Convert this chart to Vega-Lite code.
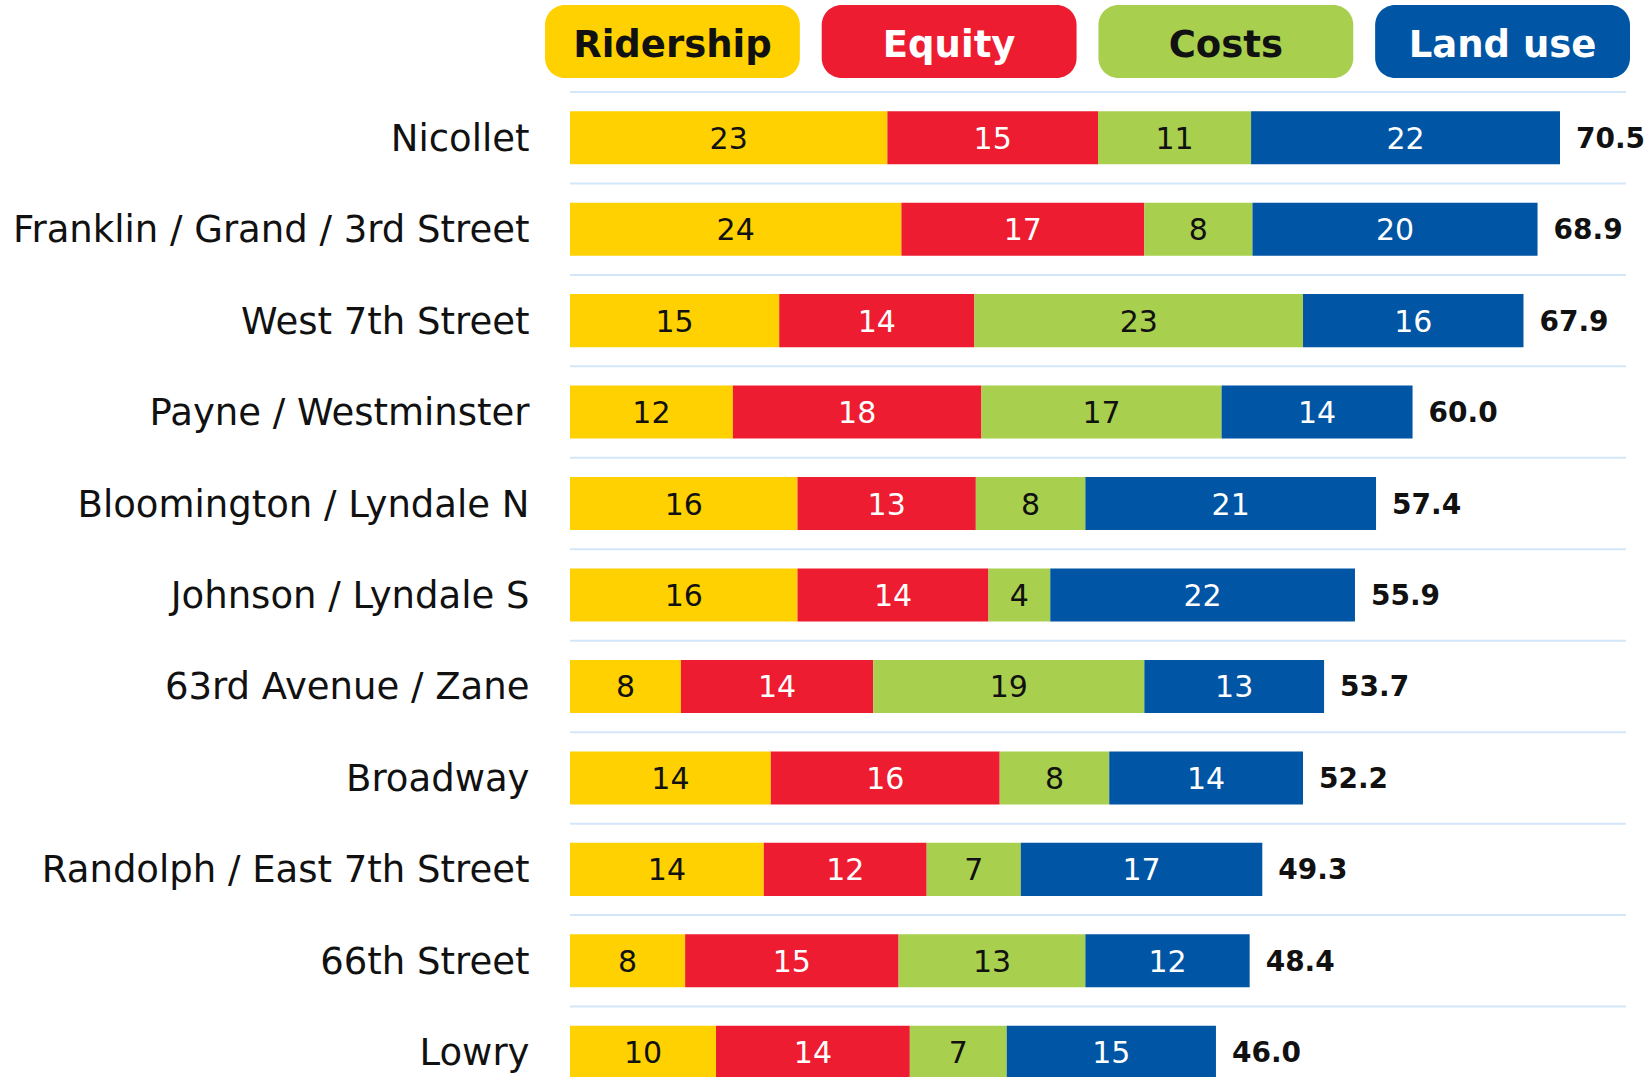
{
  "$schema": "https://vega.github.io/schema/vega-lite/v6.json",
  "width": 1056,
  "height": 985,
  "autosize": {"type": "none"},
  "padding": {"left": 570, "top": 92, "right": 24, "bottom": 0},
  "background": "white",
  "config": {"view": {"stroke": null}, "font": "DejaVu Sans"},
  "datasets": {
    "scores": [
      {"route": "Nicollet", "criterion": "Ridership", "n": 1, "score": 22.6},
      {"route": "Nicollet", "criterion": "Equity", "n": 2, "score": 15.0},
      {"route": "Nicollet", "criterion": "Costs", "n": 3, "score": 10.9},
      {"route": "Nicollet", "criterion": "Land use", "n": 4, "score": 22.0},
      {"route": "Franklin / Grand / 3rd Street", "criterion": "Ridership", "n": 1, "score": 23.6},
      {"route": "Franklin / Grand / 3rd Street", "criterion": "Equity", "n": 2, "score": 17.3},
      {"route": "Franklin / Grand / 3rd Street", "criterion": "Costs", "n": 3, "score": 7.7},
      {"route": "Franklin / Grand / 3rd Street", "criterion": "Land use", "n": 4, "score": 20.3},
      {"route": "West 7th Street", "criterion": "Ridership", "n": 1, "score": 14.9},
      {"route": "West 7th Street", "criterion": "Equity", "n": 2, "score": 13.9},
      {"route": "West 7th Street", "criterion": "Costs", "n": 3, "score": 23.4},
      {"route": "West 7th Street", "criterion": "Land use", "n": 4, "score": 15.7},
      {"route": "Payne / Westminster", "criterion": "Ridership", "n": 1, "score": 11.6},
      {"route": "Payne / Westminster", "criterion": "Equity", "n": 2, "score": 17.7},
      {"route": "Payne / Westminster", "criterion": "Costs", "n": 3, "score": 17.1},
      {"route": "Payne / Westminster", "criterion": "Land use", "n": 4, "score": 13.6},
      {"route": "Bloomington / Lyndale N", "criterion": "Ridership", "n": 1, "score": 16.2},
      {"route": "Bloomington / Lyndale N", "criterion": "Equity", "n": 2, "score": 12.7},
      {"route": "Bloomington / Lyndale N", "criterion": "Costs", "n": 3, "score": 7.8},
      {"route": "Bloomington / Lyndale N", "criterion": "Land use", "n": 4, "score": 20.7},
      {"route": "Johnson / Lyndale S", "criterion": "Ridership", "n": 1, "score": 16.2},
      {"route": "Johnson / Lyndale S", "criterion": "Equity", "n": 2, "score": 13.6},
      {"route": "Johnson / Lyndale S", "criterion": "Costs", "n": 3, "score": 4.4},
      {"route": "Johnson / Lyndale S", "criterion": "Land use", "n": 4, "score": 21.7},
      {"route": "63rd Avenue / Zane", "criterion": "Ridership", "n": 1, "score": 7.9},
      {"route": "63rd Avenue / Zane", "criterion": "Equity", "n": 2, "score": 13.7},
      {"route": "63rd Avenue / Zane", "criterion": "Costs", "n": 3, "score": 19.3},
      {"route": "63rd Avenue / Zane", "criterion": "Land use", "n": 4, "score": 12.8},
      {"route": "Broadway", "criterion": "Ridership", "n": 1, "score": 14.3},
      {"route": "Broadway", "criterion": "Equity", "n": 2, "score": 16.3},
      {"route": "Broadway", "criterion": "Costs", "n": 3, "score": 7.8},
      {"route": "Broadway", "criterion": "Land use", "n": 4, "score": 13.8},
      {"route": "Randolph / East 7th Street", "criterion": "Ridership", "n": 1, "score": 13.8},
      {"route": "Randolph / East 7th Street", "criterion": "Equity", "n": 2, "score": 11.6},
      {"route": "Randolph / East 7th Street", "criterion": "Costs", "n": 3, "score": 6.7},
      {"route": "Randolph / East 7th Street", "criterion": "Land use", "n": 4, "score": 17.2},
      {"route": "66th Street", "criterion": "Ridership", "n": 1, "score": 8.2},
      {"route": "66th Street", "criterion": "Equity", "n": 2, "score": 15.2},
      {"route": "66th Street", "criterion": "Costs", "n": 3, "score": 13.3},
      {"route": "66th Street", "criterion": "Land use", "n": 4, "score": 11.7},
      {"route": "Lowry", "criterion": "Ridership", "n": 1, "score": 10.4},
      {"route": "Lowry", "criterion": "Equity", "n": 2, "score": 13.8},
      {"route": "Lowry", "criterion": "Costs", "n": 3, "score": 6.9},
      {"route": "Lowry", "criterion": "Land use", "n": 4, "score": 14.9}
    ],
    "totals": [
      {"route": "Nicollet", "total": 70.5},
      {"route": "Franklin / Grand / 3rd Street", "total": 68.9},
      {"route": "West 7th Street", "total": 67.9},
      {"route": "Payne / Westminster", "total": 60.0},
      {"route": "Bloomington / Lyndale N", "total": 57.4},
      {"route": "Johnson / Lyndale S", "total": 55.9},
      {"route": "63rd Avenue / Zane", "total": 53.7},
      {"route": "Broadway", "total": 52.2},
      {"route": "Randolph / East 7th Street", "total": 49.3},
      {"route": "66th Street", "total": 48.4},
      {"route": "Lowry", "total": 46.0}
    ],
    "pills": [
      {"criterion": "Ridership"},
      {"criterion": "Equity"},
      {"criterion": "Costs"},
      {"criterion": "Land use"}
    ]
  },
  "layer": [
    {
      "encoding": {
        "y": {
          "field": "route",
          "type": "nominal",
          "scale": {
            "domain": ["Nicollet", "Franklin / Grand / 3rd Street", "West 7th Street", "Payne / Westminster", "Bloomington / Lyndale N", "Johnson / Lyndale S", "63rd Avenue / Zane", "Broadway", "Randolph / East 7th Street", "66th Street", "Lowry"],
            "range": [0, 1006],
            "paddingInner": 0.42,
            "paddingOuter": 0.21
          },
          "axis": {
            "title": null,
            "domain": false,
            "ticks": false,
            "grid": false,
            "labelFont": "DejaVu Sans",
            "labelFontSize": 37,
            "labelColor": "#111111",
            "labelPadding": 41,
            "labelOffset": 2,
            "labelLimit": 0
          }
        }
      },
      "layer": [
        {
          "data": {"name": "totals"},
          "mark": {"type": "rule", "color": "#D4E6F9", "strokeWidth": 2},
          "encoding": {
            "y": {"field": "route", "type": "nominal", "bandPosition": -0.362}
          }
        },
        {
          "data": {"name": "scores"},
          "mark": {"type": "bar"},
          "encoding": {
            "x": {"field": "score", "type": "quantitative", "stack": "zero", "scale": {"domain": [0, 75.2], "nice": false, "zero": true}, "axis": null},
            "color": {
              "field": "criterion",
              "type": "nominal",
              "scale": {"domain": ["Ridership", "Equity", "Costs", "Land use"], "range": ["#FFD100", "#EE1C30", "#A8CF4E", "#0055A4"]},
              "legend": null
            },
            "order": {"field": "n", "type": "quantitative"}
          }
        },
        {
          "data": {"name": "scores"},
          "mark": {"type": "text", "fontSize": 30, "baseline": "middle", "dy": 2, "font": "DejaVu Sans"},
          "encoding": {
            "x": {"field": "score", "type": "quantitative", "stack": "zero", "bandPosition": 0.5},
            "detail": {"field": "criterion", "type": "nominal"},
            "order": {"field": "n", "type": "quantitative"},
            "text": {"field": "score", "type": "quantitative", "format": ".0f"},
            "color": {
              "condition": {"test": "datum.criterion === 'Equity' || datum.criterion === 'Land use'", "value": "#FFFFFF"},
              "value": "#111111"
            }
          }
        },
        {
          "data": {"name": "totals"},
          "mark": {"type": "text", "fontSize": 28, "fontWeight": "bold", "align": "left", "baseline": "middle", "dx": 16, "dy": 2, "color": "#111111", "font": "DejaVu Sans"},
          "encoding": {
            "x": {"field": "total", "type": "quantitative"},
            "text": {"field": "total", "type": "quantitative", "format": ".1f"}
          }
        }
      ]
    },
    {
      "data": {"name": "pills"},
      "encoding": {
        "x": {
          "field": "criterion",
          "type": "nominal",
          "scale": {"domain": ["Ridership", "Equity", "Costs", "Land use"], "range": [-25, 1060], "paddingInner": 0.079, "paddingOuter": 0},
          "axis": null
        },
        "y": {
          "datum": "legend",
          "type": "nominal",
          "scale": {"range": [-87, -14], "paddingInner": 0, "paddingOuter": 0},
          "axis": null
        }
      },
      "layer": [
        {
          "mark": {"type": "rect", "cornerRadius": 20},
          "encoding": {
            "color": {"field": "criterion", "type": "nominal", "legend": null}
          }
        },
        {
          "mark": {"type": "text", "fontSize": 37, "fontWeight": "bold", "baseline": "middle", "dy": 4, "font": "DejaVu Sans"},
          "encoding": {
            "text": {"field": "criterion", "type": "nominal"},
            "color": {
              "condition": {"test": "datum.criterion === 'Equity' || datum.criterion === 'Land use'", "value": "#FFFFFF"},
              "value": "#111111"
            }
          }
        }
      ]
    }
  ],
  "resolve": {"scale": {"x": "independent", "y": "independent"}}
}
